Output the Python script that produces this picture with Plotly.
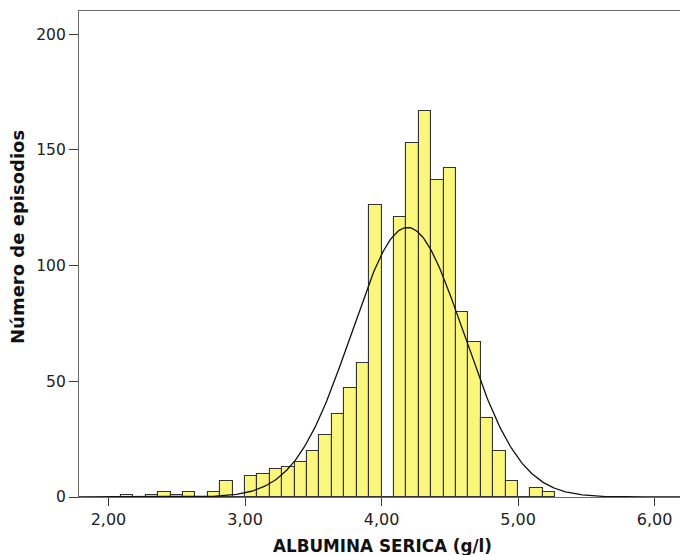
import numpy as np
import plotly.graph_objects as go

# Histogram of serum albumin: 11 bins per g/l unit, starting at 2.00
bin_width = 1 / 11
bin_start = 2.0
counts = [0, 1, 0, 1, 2, 1, 2, 0, 2, 7, 0,
          9, 10, 12, 13, 15, 20, 27, 36, 47, 58, 126, 0,
          121, 153, 167, 137, 142, 80, 67, 34, 20, 7, 0, 4, 2]

# Fitted normal curve parameters
mean_alb = 4.19
sd_alb = 0.412

x_ticks = [2, 3, 4, 5, 6]
x_ticktext = ["2,00", "3,00", "4,00", "5,00", "6,00"]
y_ticks = [0, 50, 100, 150, 200]

centers = [bin_start + (i + 0.5) * bin_width for i in range(len(counts))]
n_total = sum(counts)

xs = np.linspace(1.75, 6.25, 400)
ys = n_total * bin_width / (sd_alb * np.sqrt(2 * np.pi)) * np.exp(-0.5 * ((xs - mean_alb) / sd_alb) ** 2)

fig = go.Figure()
fig.add_trace(go.Bar(
    x=centers, y=counts, width=bin_width,
    marker=dict(color="#FBF77C", line=dict(color="#333333", width=1.1)),
    showlegend=False, hoverinfo="skip",
))
fig.add_trace(go.Scatter(
    x=xs, y=ys, mode="lines",
    line=dict(color="#111111", width=1.3),
    showlegend=False, hoverinfo="skip",
))

fig.update_layout(
    width=680, height=555,
    margin=dict(l=79, r=0, t=11, b=58),
    paper_bgcolor="white", plot_bgcolor="white",
    bargap=0,
    xaxis=dict(
        range=[1.784, 6.186], tickvals=x_ticks, ticktext=x_ticktext,
        showgrid=False, zeroline=False,
        showline=True, linecolor="#6a6a6a", linewidth=1.3, mirror=True,
        ticks="outside", ticklen=8, tickcolor="#3a3a3a", tickwidth=1.3,
        tickfont=dict(family="DejaVu Sans", size=16, color="#222222"),
    ),
    yaxis=dict(
        range=[0, 210], tickvals=y_ticks,
        showgrid=False, zeroline=False,
        showline=True, linecolor="#6a6a6a", linewidth=1.3,
        ticks="outside", ticklen=9, tickcolor="#3a3a3a", tickwidth=1.3,
        tickfont=dict(family="DejaVu Sans", size=15.5, color="#222222"),
    ),
    annotations=[
        dict(text="ALBUMINA SERICA (g/l)", xref="paper", yref="paper",
             x=0.505, y=0, yshift=-49, xanchor="center", yanchor="middle",
             showarrow=False, font=dict(family="DejaVu Sans", size=16.8, color="#111111", weight="bold")),
        dict(text="Número de episodios", xref="paper", yref="paper",
             x=0, xshift=-61, y=0.535, xanchor="center", yanchor="middle", textangle=-90,
             showarrow=False, font=dict(family="DejaVu Sans", size=18, color="#111111", weight="bold")),
    ],
)

fig.write_html("out.html")
